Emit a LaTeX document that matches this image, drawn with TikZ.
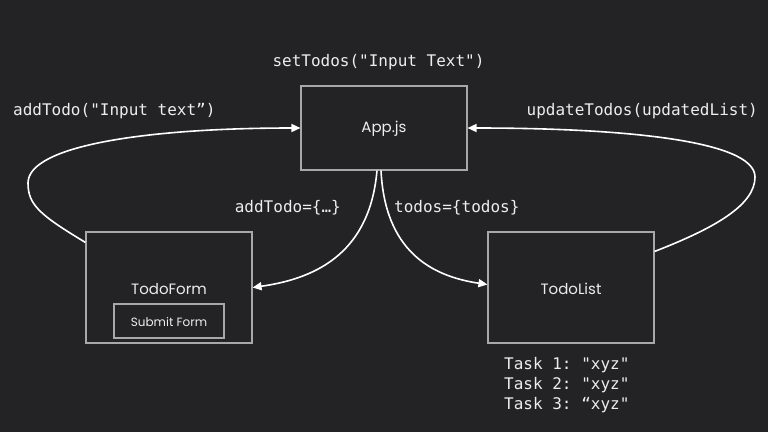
\documentclass[tikz,border=0pt]{standalone}
\usepackage{fontspec}
\setmainfont{Poppins}
\setmonofont{DejaVu Sans Mono}
\usetikzlibrary{arrows.meta}
\definecolor{bg}{HTML}{232326}
\definecolor{boxline}{HTML}{A8A8AA}
\definecolor{txt}{HTML}{EDEDED}
\begin{document}
\begin{tikzpicture}[x=1pt,y=-1pt,
  compbox/.style={draw=boxline,line width=1.1pt,inner sep=0pt},
  code/.style={text=txt,font=\ttfamily\fontsize{16}{20}\selectfont,inner sep=0pt,align=left},
  lbl/.style={text=txt,font=\fontsize{15}{18}\selectfont,inner sep=0pt},
  flow/.style={draw=white,line width=1.6pt,-{Triangle[length=9pt,width=8pt]}}]
\fill[bg] (0,0) rectangle (768,432);
\useasboundingbox (0,0) rectangle (768,432);
% boxes
\node[compbox,minimum width=166pt,minimum height=84pt] (app) at (384,128) {};
\node[compbox,minimum width=166pt,minimum height=111pt] (form) at (169,287.5) {};
\node[compbox,minimum width=166pt,minimum height=111pt] (list) at (571,287.5) {};
\node[compbox,minimum width=110pt,minimum height=34pt] (submit) at (169,321) {};
% box labels
\node[lbl] (applbl) at (384,129) {App.js};
\node[lbl] (formlbl) at (169,289) {TodoForm};
\node[lbl] (listlbl) at (571,289) {TodoList};
\node[lbl,font=\fontsize{12}{14}\selectfont] (submitlbl) at (169,322) {Submit Form};
% code labels
\node[code] (settodos) at (378.5,62) {setTodos("Input Text")};
\node[code,anchor=west] (addtodocall) at (13,111) {addTodo("Input text”)};
\node[code,anchor=east] (updatetodos) at (758,111) {updateTodos(updatedList)};
\node[code,anchor=east] (addtodoprop) at (341,208) {addTodo=\{…\}};
\node[code,anchor=west] (todosprop) at (394,208) {todos=\{todos\}};
\node[code,anchor=north west,align=left] (tasks) at (504,357) {Task 1: "xyz"\\Task 2: "xyz"\\Task 3: “xyz"};
% connectors
\draw[flow] ([yshift=-11pt]form.north west) .. controls (40,215) and (28,205) .. (28,183)
  .. controls (28,145) and (150,128) .. (app.west);
\draw[flow] ([yshift=-20pt]list.north east) .. controls (715,228) and (755,205) .. (755,177)
  .. controls (755,140) and (620,128) .. (app.east);
\draw[flow] ([xshift=-7pt]app.south) .. controls (370,250) and (320,278) .. (form.east);
\draw[flow] ([xshift=-3pt]app.south) .. controls (385,250) and (430,276) .. ([yshift=3pt]list.west);
\end{tikzpicture}
\end{document}
